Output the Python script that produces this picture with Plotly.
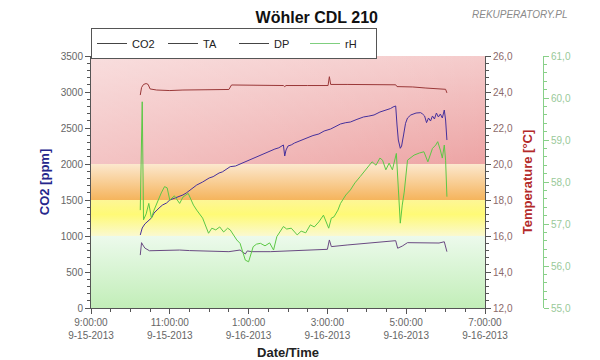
import plotly.graph_objects as go

# ---------------- data ----------------
co2_time = ["22:15","22:18","22:22","22:25","22:28","22:32","22:36","22:40","22:45","22:49","22:55","23:00",
            "23:08","23:15","23:20","23:25","23:31","23:36","23:41","23:50","00:00","00:06","00:15","00:20",
            "00:25","00:32","00:40","00:47","00:55","01:00","01:05","01:10","01:15","01:22","01:30","01:40",
            "01:46","01:51","01:53","01:55","01:57","02:00","02:05","02:10","02:15","02:21","02:30","02:38",
            "02:47","02:55","03:05","03:12","03:20","03:28","03:35","03:45","03:55","04:03","04:11","04:20",
            "04:30","04:36","04:40","04:44","04:46","04:48","04:51","04:53","04:56","04:59","05:02","05:07",
            "05:15","05:22","05:25","05:28","05:31","05:34","05:37","05:40","05:43","05:46","05:49","05:52",
            "05:55","05:58","06:00","06:02"]
co2_ppm = [1014,1111,1167,1195,1222,1250,1320,1361,1400,1431,1458,1500,
           1528,1546,1570,1597,1639,1670,1708,1750,1806,1824,1875,1890,
           1917,1963,1972,2000,2028,2045,2069,2085,2111,2140,2171,2208,
           2225,2250,2264,2111,2194,2250,2265,2292,2310,2333,2375,2395,
           2417,2458,2486,2518,2556,2574,2583,2620,2653,2665,2681,2722,
           2750,2770,2792,2806,2542,2333,2218,2250,2403,2565,2639,2681,
           2708,2713,2694,2667,2574,2639,2597,2667,2625,2708,2653,2694,
           2639,2750,2611,2333]

ta_time = ["22:15","22:17","22:20","22:24","22:27","22:30","22:40","23:00","23:20","23:40","23:52","00:10",
           "00:30","00:34","01:00","01:30","01:53","01:55","01:57","02:30","03:01","03:03","03:05","03:30",
           "04:00","04:44","04:46","05:10","05:30","05:45","06:00","06:02"]
ta_c = [23.83,24.25,24.42,24.47,24.42,24.17,24.11,24.08,24.11,24.11,24.14,24.14,
        24.14,24.39,24.39,24.36,24.36,24.30,24.36,24.36,24.36,24.85,24.42,24.42,
        24.42,24.40,24.30,24.28,24.22,24.17,24.15,23.95]

dp_time = ["22:15","22:17","22:19","22:22","22:29","22:40","22:49","23:00","23:15","23:30","23:41","23:55",
           "00:06","00:30","00:47","00:52","00:55","00:58","01:05","01:33","02:14","03:00","03:03","03:06",
           "03:30","03:56","04:20","04:44","04:47","04:51","04:54","05:02","05:20","05:37","05:50","05:58","06:02"]
dp_c = [14.94,15.63,15.50,15.33,15.18,15.19,15.18,15.22,15.22,15.19,15.18,15.17,
        15.13,15.13,15.22,15.06,15.00,15.17,15.13,15.13,15.18,15.26,15.78,15.41,
        15.50,15.59,15.67,15.74,15.32,15.39,15.44,15.63,15.61,15.59,15.61,15.68,15.13]

rh_time = ["22:15","22:18","22:20","22:24","22:28","22:32","22:36","22:42","22:47","22:52","22:56","23:00",
           "23:07","23:15","23:20","23:28","23:31","23:36","23:41","23:50","23:59","00:04","00:10","00:16",
           "00:22","00:28","00:32","00:42","00:47","00:55","01:00","01:04","01:07","01:12","01:18","01:25",
           "01:32","01:38","01:43","01:53","01:58","02:05","02:14","02:20","02:27","02:34","02:40","02:47",
           "02:54","03:02","03:06","03:10","03:16","03:20","03:28","03:35","03:42","03:50","03:58","04:08",
           "04:14","04:20","04:24","04:29","04:34","04:39","04:45","04:48","04:51","04:54","04:57","05:02",
           "05:07","05:12","05:20","05:27","05:33","05:40","05:45","05:48","05:52","05:55","05:58","06:00","06:02"]
rh_pct = [57.33,59.91,57.10,57.24,57.49,57.14,57.33,57.57,57.74,57.89,57.86,57.57,
          57.67,57.49,57.64,57.73,57.62,57.45,57.33,57.14,56.78,56.90,56.86,56.93,
          56.81,56.90,56.86,56.62,56.54,56.14,56.10,56.33,56.46,56.52,56.54,56.48,
          56.55,56.38,56.70,56.94,56.88,56.90,56.74,56.83,56.79,56.98,56.93,57.05,
          57.21,56.90,57.14,57.17,57.33,57.49,57.69,57.81,57.98,58.13,58.29,58.48,
          58.40,58.57,58.52,58.29,58.45,58.29,58.68,57.81,57.02,57.45,57.76,58.52,
          58.57,58.64,58.69,58.72,58.48,58.80,58.88,58.96,58.76,58.57,58.88,58.52,57.65]

# CO2 quality bands (ppm) and axis ticks
band_edges = [0, 1000, 1500, 2000, 3500]
x_tick_vals = ["2013-09-15 21:00", "2013-09-15 23:00", "2013-09-16 01:00",
               "2013-09-16 03:00", "2013-09-16 05:00", "2013-09-16 07:00"]
x_tick_text = ["9:00:00<br>9-15-2013", "11:00:00<br>9-15-2013", "1:00:00<br>9-16-2013",
               "3:00:00<br>9-16-2013", "5:00:00<br>9-16-2013", "7:00:00<br>9-16-2013"]


def ts(hm):
    h, m = map(int, hm.split(":"))
    day = 15 if h >= 12 else 16
    return f"2013-09-{day} {h:02d}:{m:02d}"


FONT = "Arial, Liberation Sans, sans-serif"
x0, x1 = x_tick_vals[0], x_tick_vals[-1]

band_scales = [
    [[0, "rgb(194,238,184)"], [1, "rgb(236,250,236)"]],                       # green
    [[0, "rgb(250,249,208)"], [0.6, "rgb(255,250,118)"], [1, "rgb(253,246,150)"]],  # yellow
    [[0, "rgb(245,180,92)"], [1, "rgb(252,232,206)"]],                        # orange
    [[0, "rgb(237,164,164)"], [1, "rgb(245,204,204)"]],                       # red
]

fig = go.Figure()
for i in range(4):
    lo, hi = band_edges[i], band_edges[i + 1]
    fig.add_trace(go.Scatter(x=[x0, x1, x1, x0, x0], y=[lo, lo, hi, hi, lo], mode="none",
                             fill="toself", fillgradient=dict(type="vertical", colorscale=band_scales[i]),
                             hoverinfo="skip", showlegend=False))
# soft horizontal lightening of the red band
fig.add_trace(go.Scatter(x=[x0, x1, x1, x0, x0], y=[band_edges[3], band_edges[3], band_edges[4], band_edges[4], band_edges[3]],
                         mode="none", fill="toself",
                         fillgradient=dict(type="horizontal",
                                           colorscale=[[0, "rgba(255,255,255,0.35)"], [1, "rgba(255,255,255,0)"]]),
                         hoverinfo="skip", showlegend=False))

# data lines
fig.add_trace(go.Scatter(x=[ts(t) for t in dp_time], y=dp_c, yaxis="y2", mode="lines",
                         line=dict(color="#6a4a82", width=1), showlegend=False, name="DP"))
fig.add_trace(go.Scatter(x=[ts(t) for t in ta_time], y=ta_c, yaxis="y2", mode="lines",
                         line=dict(color="#9a3838", width=1), showlegend=False, name="TA"))
fig.add_trace(go.Scatter(x=[ts(t) for t in rh_time], y=rh_pct, yaxis="y3", mode="lines",
                         line=dict(color="#5cc845", width=1), showlegend=False, name="rH"))
fig.add_trace(go.Scatter(x=[ts(t) for t in co2_time], y=co2_ppm, yaxis="y", mode="lines",
                         line=dict(color="#45309c", width=1), showlegend=False, name="CO2"))

# legend entries
for name, col in [("CO2", "#444444"), ("TA", "#444444"), ("DP", "#444444"), ("rH", "#7fcf7f")]:
    fig.add_trace(go.Scatter(x=[None], y=[None], mode="lines", name=name,
                             line=dict(color=col, width=1)))

axis_common = dict(showline=True, linecolor="#555555", linewidth=1, ticks="outside", ticklen=5,
                   tickcolor="#555555", showgrid=False, zeroline=False, automargin=False)

fig.update_layout(
    width=600, height=360,
    margin=dict(l=91, r=57, t=56, b=52, autoexpand=False),
    paper_bgcolor="white", plot_bgcolor="white",
    separators=", ",
    font=dict(family=FONT, size=10, color="#666666"),
    title=dict(text="<b>Wöhler CDL 210</b>", x=0.528, xanchor="center", y=1 - 17 / 360, yanchor="middle",
               font=dict(family=FONT, size=16, color="#111111")),
    legend=dict(orientation="h", xref="container", yref="container",
                x=91 / 600, xanchor="left", y=1 - 28 / 360, yanchor="top",
                bordercolor="#555555", borderwidth=1, bgcolor="white",
                font=dict(family=FONT, size=11, color="#222222"),
                entrywidth=26, entrywidthmode="pixels", itemwidth=30,
                tracegroupgap=0),
    xaxis=dict(type="date", range=[x0, x1], domain=[0, 394 / 452],
               tickmode="array", tickvals=x_tick_vals, ticktext=x_tick_text,
               tickfont=dict(size=10, color="#666666"),
               minor=dict(dtick=1800000, tick0=x0, ticks="outside", ticklen=3, tickcolor="#555555"),
               title=dict(text="<b>Date/Time</b>", font=dict(size=13, color="#222222"), standoff=10),
               **axis_common),
    yaxis=dict(range=[0, 3500], dtick=500, tick0=0,
               tickfont=dict(size=10, color="#666666"),
               minor=dict(dtick=100, ticks="outside", ticklen=3, tickcolor="#555555"),
               title=dict(text="<b>CO2 [ppm]</b>", font=dict(size=13, color="#26268c"), standoff=8),
               **axis_common),
    yaxis2=dict(range=[12, 26], dtick=2, tick0=12, tickformat=".1f", overlaying="y", side="right", anchor="x",
                tickfont=dict(size=10, color="#8c6a6a"),
                minor=dict(dtick=0.4, ticks="outside", ticklen=3, tickcolor="#555555"),
                title=dict(text="<b>Temperature [°C]</b>", font=dict(size=13, color="#b32a2a"), standoff=10),
                **axis_common),
    yaxis3=dict(range=[55, 61], dtick=1, tick0=55, tickformat=".1f", overlaying="y", side="right",
                anchor="free", position=1.0, automargin=False,
                showline=True, linecolor="#88d088", linewidth=1, ticks="outside", ticklen=5, tickcolor="#88d088",
                showgrid=False, zeroline=False,
                tickfont=dict(size=10, color="#99c999"),
                minor=dict(dtick=0.2, ticks="outside", ticklen=3, tickcolor="#88d088")),
    annotations=[dict(text="<i>REKUPERATORY.PL</i>", x=(520 - 91) / 452, y=(308 - 15) / 252,
                      xref="paper", yref="paper",
                      xanchor="center", yanchor="middle", showarrow=False,
                      font=dict(family=FONT, size=10, color="#8a8a8a"))],
)

fig.write_html("out.html")
